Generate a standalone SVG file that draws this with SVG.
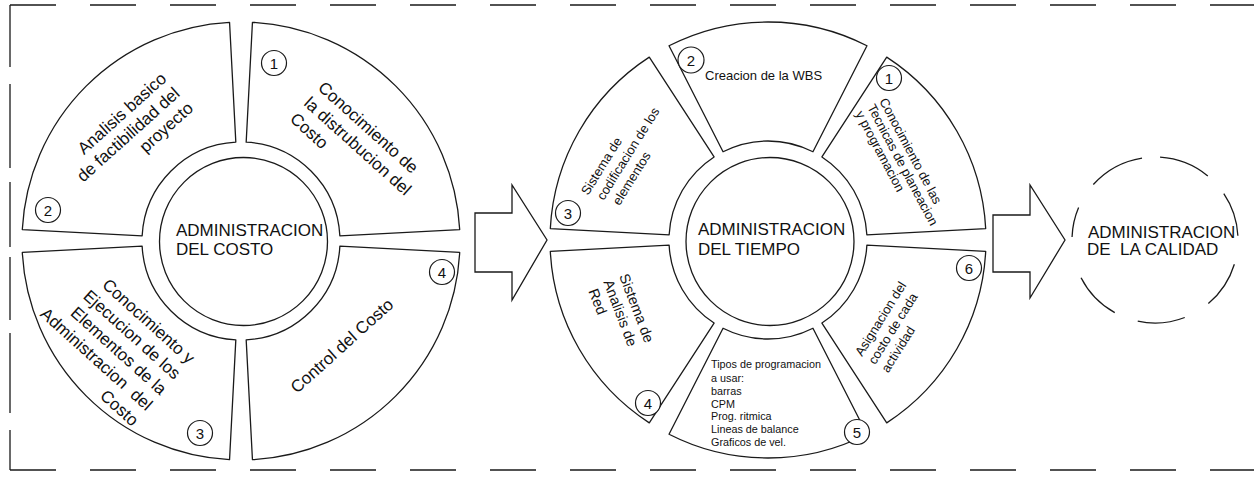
<svg xmlns="http://www.w3.org/2000/svg" width="1254" height="477" viewBox="0 0 1254 477">
  <style>
    .frame { fill: none; stroke: #1a1a1a; stroke-width: 1.3; }
    .seg { fill: #fff; stroke: #1a1a1a; stroke-width: 1.3; stroke-linejoin: round; }
    .hub { fill: #fff; stroke: #1a1a1a; stroke-width: 1.3; }
    .dash { fill: none; stroke: #1a1a1a; stroke-width: 1.3; }
    .arrow { fill: #fff; stroke: #1a1a1a; stroke-width: 1.3; stroke-linejoin: miter; }
    .num { fill: #fff; stroke: #1a1a1a; stroke-width: 1.2; }
    text { font-family: "Liberation Sans", Arial, Helvetica, sans-serif; fill: #111; }
    .title { font-size: 17px; }
    .big { font-size: 17px; }
    .mid { font-size: 13px; }
    .red { font-size: 14.5px; }
    .small { font-size: 10.8px; }
    .digit { font-size: 15px; text-anchor: middle; }
  </style>
  <rect width="1254" height="477" fill="#fff"/>

  <!-- dashed frame, open on the right -->
  <g id="frame">
    <path class="frame" d="M10,5 H1254" stroke-dasharray="46 34"/>
    <path class="frame" d="M10,470 H1254" stroke-dasharray="46 34"/>
    <path class="frame" d="M10,5 V67 M10,84 V168 M10,182 V247 M10,257 V320 M10,333 V413 M10,430 V470"/>
  </g>

  <!-- cost management ring -->
  <g id="costo">
    <path id="costo-1" class="seg" d="M252.45,22.3 A219,219 0 0 1 459.7,229.55 L339.86,235.82 A99,99 0 0 0 246.18,142.14 Z"/>
    <path id="costo-2" class="seg" d="M22.3,229.55 A219,219 0 0 1 229.55,22.3 L235.82,142.14 A99,99 0 0 0 142.14,235.82 Z"/>
    <path id="costo-3" class="seg" d="M229.55,459.7 A219,219 0 0 1 22.3,252.45 L142.14,246.18 A99,99 0 0 0 235.82,339.86 Z"/>
    <path id="costo-4" class="seg" d="M459.7,252.45 A219,219 0 0 1 252.45,459.7 L246.18,339.86 A99,99 0 0 0 339.86,246.18 Z"/>
    <circle class="hub" cx="243.5" cy="241.5" r="84"/>
    <text class="title" x="176" y="236">ADMINISTRACION</text>
    <text class="title" x="176" y="255">DEL COSTO</text>

    <circle class="num" cx="274" cy="63" r="12.5"/><text class="digit" x="274" y="68.5">1</text>
    <circle class="num" cx="48" cy="210" r="12.5"/><text class="digit" x="48" y="215.5">2</text>
    <circle class="num" cx="200" cy="433" r="12.5"/><text class="digit" x="200" y="438.5">3</text>
    <circle class="num" cx="442" cy="272" r="12.5"/><text class="digit" x="442" y="277.5">4</text>

    <g transform="translate(317,89) rotate(42)" class="big">
      <text x="0" y="0">Conocimiento de</text>
      <text x="0" y="21">la distrubucion del</text>
      <text x="0" y="42">Costo</text>
    </g>
    <g transform="translate(82,157) rotate(-42)" class="big" text-anchor="end">
      <text x="115" y="0">Analisis basico</text>
      <text x="115" y="20">de factibilidad del</text>
      <text x="115" y="40">proyecto</text>
    </g>
    <g transform="translate(102,287) rotate(42)" class="big" text-anchor="end">
      <text x="116" y="0">Conocimiento y</text>
      <text x="116" y="21">Ejecucion de los</text>
      <text x="116" y="42">Elementos de la</text>
      <text x="116" y="63">Administracion&#160; del</text>
      <text x="116" y="84">Costo</text>
    </g>
    <text class="big" transform="translate(297,394) rotate(-42)">Control del Costo</text>
  </g>

  <!-- time management ring -->
  <g id="tiempo">
    <path id="tiempo-2" class="seg" d="M669.03,45.76 A218,218 0 0 1 866.97,45.76 L812.95,151.79 A99,99 0 0 0 723.05,151.79 Z"/>
    <path id="tiempo-1" class="seg" d="M886.72,57.16 A218,218 0 0 1 985.69,228.6 L866.86,234.82 A99,99 0 0 0 821.92,156.97 Z"/>
    <path id="tiempo-6" class="seg" d="M985.69,251.4 A218,218 0 0 1 886.72,422.84 L821.92,323.03 A99,99 0 0 0 866.86,245.18 Z"/>
    <path id="tiempo-5" class="seg" d="M866.97,434.24 A218,218 0 0 1 669.03,434.24 L723.05,328.21 A99,99 0 0 0 812.95,328.21 Z"/>
    <path id="tiempo-4" class="seg" d="M649.28,422.84 A218,218 0 0 1 550.31,251.4 L669.14,245.18 A99,99 0 0 0 714.08,323.03 Z"/>
    <path id="tiempo-3" class="seg" d="M550.31,228.6 A218,218 0 0 1 649.28,57.16 L714.08,156.97 A99,99 0 0 0 669.14,234.82 Z"/>
    <circle class="hub" cx="770" cy="241.5" r="84"/>
    <text class="title" x="698" y="235">ADMINISTRACION</text>
    <text class="title" x="698" y="255">DEL TIEMPO</text>

    <circle class="num" cx="889" cy="78" r="12.5"/><text class="digit" x="889" y="83.5">1</text>
    <circle class="num" cx="691" cy="60" r="13"/><text class="digit" x="691" y="65.5">2</text>
    <circle class="num" cx="568" cy="213" r="12.5"/><text class="digit" x="568" y="218.5">3</text>
    <circle class="num" cx="648" cy="403" r="12.5"/><text class="digit" x="648" y="408.5">4</text>
    <circle class="num" cx="857" cy="432" r="12.5"/><text class="digit" x="857" y="437.5">5</text>
    <circle class="num" cx="969" cy="268" r="12.5"/><text class="digit" x="969" y="273.5">6</text>

    <text class="mid" x="705" y="80">Creacion de la WBS</text>
    <g transform="translate(879,101) rotate(62)" class="mid">
      <text x="0" y="0">Conocimiento de las</text>
      <text x="0" y="13.5">Tecnicas de planeacion</text>
      <text x="0" y="27">y programacion</text>
    </g>
    <g transform="translate(588,196) rotate(-58)" class="mid">
      <text x="0" y="0">Sistema de</text>
      <text x="4" y="16">codificacion de los</text>
      <text x="8" y="32">elementos</text>
    </g>
    <g transform="translate(619,276) rotate(69)" class="red">
      <text x="0" y="0">Sistema de</text>
      <text x="0" y="17">Analisis de</text>
      <text x="3" y="34">Red</text>
    </g>
    <g transform="translate(862,357) rotate(-58)" class="mid">
      <text x="0" y="0">Asignacion del</text>
      <text x="0" y="15.5">costo de cada</text>
      <text x="0" y="31">actividad</text>
    </g>
    <g class="small">
      <text x="711" y="368">Tipos de programacion</text>
      <text x="711" y="382">a usar:</text>
      <text x="711" y="395">barras</text>
      <text x="711" y="408">CPM</text>
      <text x="711" y="420">Prog. ritmica</text>
      <text x="711" y="433">Lineas de balance</text>
      <text x="711" y="446">Graficos de vel.</text>
    </g>
  </g>

  <!-- quality management, dashed outline -->
  <g id="calidad">
    <path class="dash" d="M1093.32,184.46 A83,83 0 0 1 1142.02,158.02 M1160.07,157.16 A83,83 0 0 1 1207.8,175.96 M1223.81,193.59 A83,83 0 0 1 1237.89,235.66 M1234.37,264.27 A83,83 0 0 1 1208.35,303.58 M1184.75,317.49 A83,83 0 0 1 1137.74,321.18 M1114.76,312.59 A83,83 0 0 1 1081.05,277.68 M1072.05,237.1 A83,83 0 0 1 1078.6,207.57"/>
    <text class="title" x="1088" y="238">ADMINISTRACION</text>
    <text class="title" x="1087" y="255" xml:space="preserve">DE  LA CALIDAD</text>
  </g>

  <!-- block arrows between stages -->
  <g id="connectors">
    <polygon class="arrow" points="475,213 512,213 512,185 547,240 512,300 512,272 475,272"/>
    <polygon class="arrow" points="993,215 1030,215 1030,185 1065,240 1030,298 1030,272 993,272"/>
  </g>
</svg>
